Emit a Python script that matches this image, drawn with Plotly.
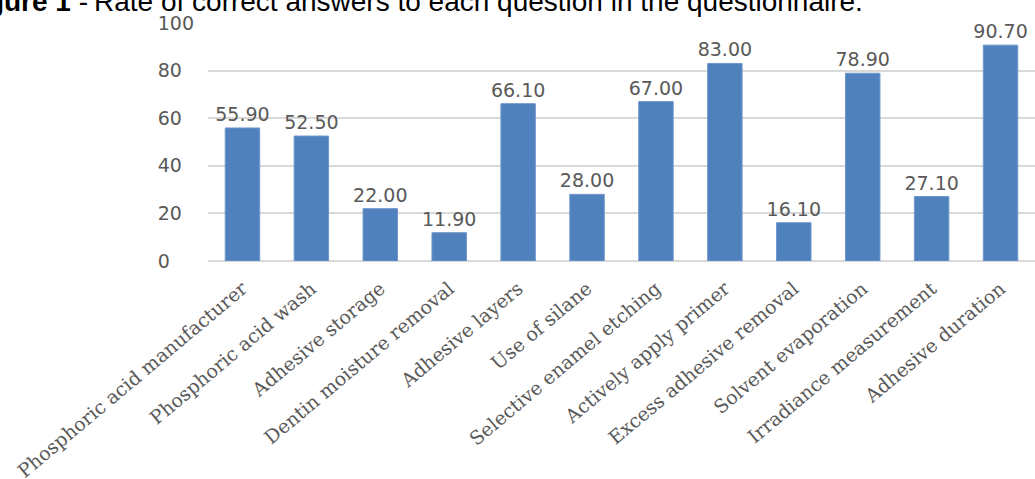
import plotly.graph_objects as go

categories = ["Phosphoric acid manufacturer", "Phosphoric acid wash", "Adhesive storage",
              "Dentin moisture removal", "Adhesive layers", "Use of silane",
              "Selective enamel etching", "Actively apply primer", "Excess adhesive removal",
              "Solvent evaporation", "Irradiance measurement", "Adhesive duration"]
values = [55.90, 52.50, 22.00, 11.90, 66.10, 28.00, 67.00, 83.00, 16.10, 78.90, 27.10, 90.70]
y_ticks = [0, 20, 40, 60, 80, 100]

W, H = 1035, 479
L, R, T, B = 208, 0, 23, 218

# left-aligned tick labels: pad with figure spaces
y_ticktext = [str(v) + "\u2007" * (3 - len(str(v))) for v in y_ticks]

fig = go.Figure(go.Bar(
    x=categories, y=values,
    marker=dict(color="#4F81BD", line=dict(color="#6f97cc", width=1)),
    text=[f"{v:.2f}" for v in values], textposition="outside", constraintext="none",
    textfont=dict(family="DejaVu Sans", size=19, color="#595959"),
    cliponaxis=False, width=0.5,
))

ph = H - T - B
pw = W - L - R
fig.update_layout(
    width=W, height=H, margin=dict(l=L, r=R, t=T, b=B, autoexpand=False),
    paper_bgcolor="white", plot_bgcolor="white", showlegend=False,
    xaxis=dict(tickangle=-40, tickfont=dict(family="DejaVu Serif", size=19, color="#595959"),
               showgrid=False, showline=False, ticks="", ticklabelstandoff=12, automargin=False),
    yaxis=dict(range=[0, 100], tickvals=y_ticks, ticktext=y_ticktext,
               showgrid=True, gridcolor="#d9d9d9", gridwidth=1.5,
               zeroline=True, zerolinecolor="#d9d9d9", zerolinewidth=1.5, automargin=False,
               tickfont=dict(family="DejaVu Sans", size=19, color="#595959"), ticklabelstandoff=13),
    annotations=[
        dict(text="<b>Figure 1</b> -", xref="paper", yref="paper",
             x=(89 - L) / pw, y=1 + (T - 18) / ph, xanchor="right", yanchor="bottom",
             showarrow=False, borderpad=0,
             font=dict(family="Liberation Sans", size=28, color="black")),
        dict(text="Rate of correct answers to each question in the questionnaire.",
             xref="paper", yref="paper",
             x=(93 - L) / pw, y=1 + (T - 18) / ph, xanchor="left", yanchor="bottom",
             showarrow=False, borderpad=0,
             font=dict(family="Liberation Sans", size=28, color="black")),
    ],
)
fig.write_html("out.html")
